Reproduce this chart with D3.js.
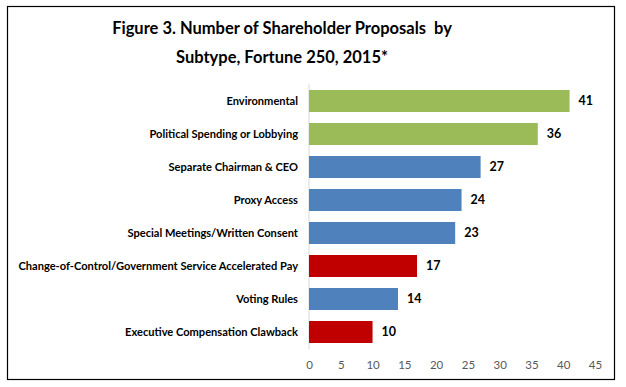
<!DOCTYPE html>
<html><head><meta charset="utf-8">
<script src="https://cdn.jsdelivr.net/npm/d3@7"></script>
<style>body{margin:0;background:#fff}svg{display:block}text{font-family:Lato,"Open Sans",sans-serif}</style>
</head><body>
<script>
const categories = ["Environmental","Political Spending or Lobbying","Separate Chairman & CEO","Proxy Access","Special Meetings/Written Consent","Change-of-Control/Government Service Accelerated Pay","Voting Rules","Executive Compensation Clawback"];
const values = [41,36,27,24,23,17,14,10];
const groups = ["env","env","gov","gov","gov","comp","gov","comp"];
const groupColors = {env:"#9BBB59", gov:"#4F81BD", comp:"#C00000"};
const xTicks = [0,5,10,15,20,25,30,35,40,45];
const titleLines = ["Figure 3. Number of Shareholder Proposals  by","Subtype, Fortune 250, 2015*"];

const W=626,H=387;
const svg=d3.select("body").append("svg").attr("width",W).attr("height",H);
svg.append("rect").attr("x",7.5).attr("y",6.5).attr("width",607).attr("height",373).attr("fill","#fff").attr("stroke","#000").attr("stroke-width",1.2);

const x=d3.scaleLinear().domain([0,45]).range([309,595]);
const y=d3.scaleBand().domain(categories).range([84.5,348.5]).paddingInner(1/3).paddingOuter(1/6);

// title
const tl=svg.append("g");
titleLines.forEach((t,i)=>{
  const el=tl.append("text").attr("x",282).attr("y",34+i*28.5).attr("text-anchor","middle")
    .attr("font-weight","bold").attr("font-size",20).attr("fill","#000").attr("xml:space","preserve").style("white-space","pre").text(t);
});
// fit title width
const t0=tl.select("text").node();
const w0=t0.getComputedTextLength();
tl.selectAll("text").attr("font-size",20*340/w0);

// axis line
svg.append("line").attr("x1",x(0)).attr("x2",x(0)).attr("y1",84).attr("y2",349).attr("stroke","#D9D9D9").attr("stroke-width",1);

// bars
svg.selectAll("rect.bar").data(categories).join("rect").attr("class","bar")
  .attr("x",x(0)).attr("y",d=>y(d)).attr("height",y.bandwidth())
  .attr("width",(d,i)=>x(values[i])-x(0)).attr("fill",(d,i)=>groupColors[groups[i]]);

// category labels
const yAxis=svg.append("g").attr("transform",`translate(${x(0)},0)`).call(d3.axisLeft(y).tickSize(0).tickPadding(11));
yAxis.select(".domain").remove();
yAxis.selectAll("text").attr("font-family","Lato,sans-serif").attr("font-weight","bold").attr("font-size",11).attr("fill","#000");
// fit label widths to reference (longest ~280px)
let longest=0;yAxis.selectAll("text").each(function(){longest=Math.max(longest,this.getComputedTextLength());});
yAxis.selectAll("text").attr("font-size",11*280/longest);

// value labels
svg.selectAll("text.val").data(categories).join("text").attr("class","val")
  .attr("x",(d,i)=>x(values[i])+9).attr("y",d=>y(d)+y.bandwidth()/2).attr("dy","0.35em")
  .attr("font-weight","bold").attr("font-size",12.5).attr("fill","#000").text((d,i)=>values[i]);

// x axis
const xAxis=svg.append("g").attr("transform","translate(0,349)").call(d3.axisBottom(x).tickValues(xTicks).tickSize(0).tickPadding(12));
xAxis.select(".domain").remove();
xAxis.selectAll("text").attr("font-family","Lato,sans-serif").attr("font-size",11.5).attr("fill","#595959");
</script>
</body></html>
